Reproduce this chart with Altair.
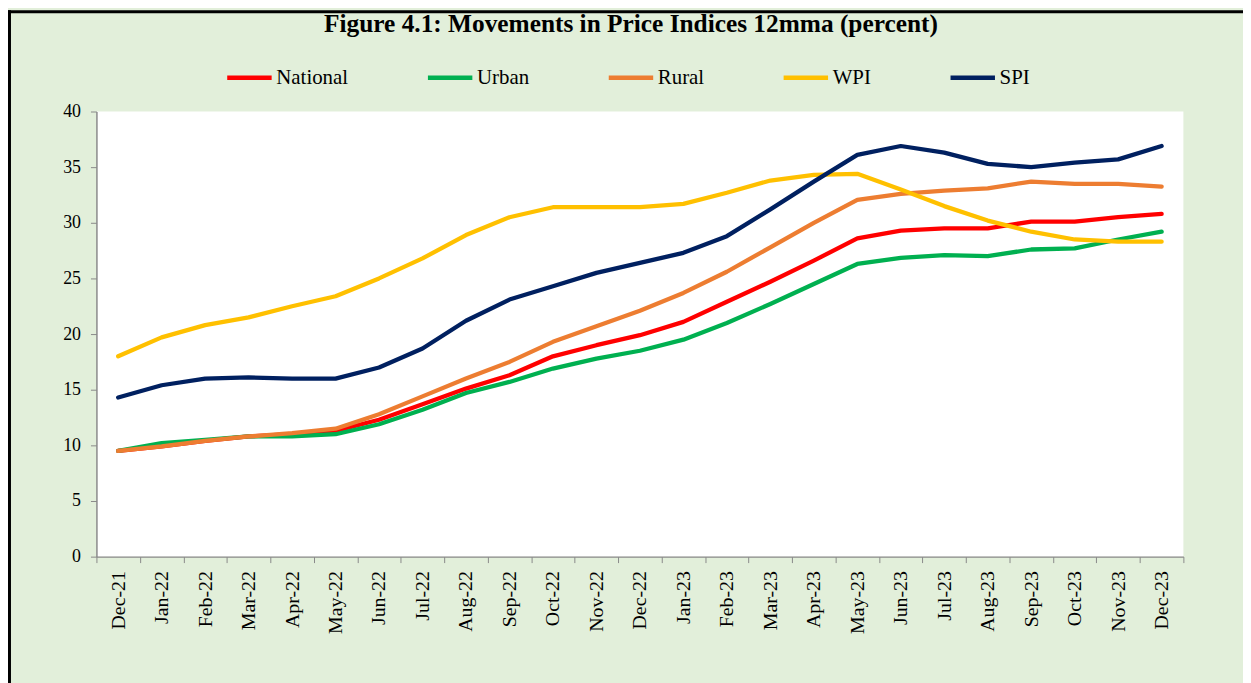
import altair as alt
import pandas as pd

months = ["Dec-21", "Jan-22", "Feb-22", "Mar-22", "Apr-22", "May-22", "Jun-22", "Jul-22",
          "Aug-22", "Sep-22", "Oct-22", "Nov-22", "Dec-22", "Jan-23", "Feb-23", "Mar-23",
          "Apr-23", "May-23", "Jun-23", "Jul-23", "Aug-23", "Sep-23", "Oct-23", "Nov-23", "Dec-23"]

national = [9.5, 9.9, 10.4, 10.8, 11.0, 11.3, 12.3, 13.7, 15.1, 16.3, 18.0, 19.0, 19.9,
            21.1, 22.9, 24.7, 26.6, 28.6, 29.3, 29.5, 29.5, 30.1, 30.1, 30.5, 30.8]
urban = [9.5, 10.2, 10.5, 10.8, 10.8, 11.0, 11.9, 13.2, 14.7, 15.7, 16.9, 17.8, 18.5,
         19.5, 21.0, 22.7, 24.5, 26.3, 26.85, 27.1, 27.0, 27.6, 27.7, 28.5, 29.2]
rural = [9.5, 9.9, 10.4, 10.8, 11.1, 11.5, 12.8, 14.4, 16.0, 17.5, 19.3, 20.7, 22.1,
         23.7, 25.6, 27.8, 30.0, 32.05, 32.6, 32.9, 33.1, 33.7, 33.5, 33.5, 33.25]
wpi = [18.0, 19.7, 20.8, 21.5, 22.5, 23.4, 25.0, 26.8, 28.9, 30.5, 31.4, 31.4, 31.4,
       31.7, 32.7, 33.8, 34.3, 34.4, 33.0, 31.5, 30.2, 29.2, 28.5, 28.3, 28.3]
spi = [14.3, 15.4, 16.0, 16.1, 16.0, 16.0, 17.0, 18.7, 21.2, 23.1, 24.3, 25.5, 26.4,
       27.3, 28.8, 31.2, 33.7, 36.1, 36.9, 36.3, 35.3, 35.0, 35.4, 35.7, 36.9]

series_names = ["National", "Urban", "Rural", "WPI", "SPI"]
series_colors = ["#FF0000", "#00B050", "#ED7D31", "#FFC000", "#002060"]
title_text = "Figure 4.1: Movements in Price Indices 12mma (percent)"

rows = []
for name, vals in zip(series_names, [national, urban, rural, wpi, spi]):
    for i, (m, v) in enumerate(zip(months, vals)):
        rows.append({"month": m, "series": name, "value": v, "order": i})
df = pd.DataFrame(rows)

SERIF = "Liberation Serif"
W, H = 1094, 448

lines = alt.Chart(df).mark_line(strokeWidth=4.3, strokeCap="round", strokeJoin="round").encode(
    x=alt.X("month:N", sort=months, title=None,
            scale=alt.Scale(type="band", paddingInner=0, paddingOuter=0),
            axis=alt.Axis(labelAngle=270, labelAlign="right", labelBaseline="middle",
                          labelFont=SERIF, labelFontSize=20, labelColor="#000000",
                          labelPadding=8, tickBand="extent", tickSize=6,
                          tickColor="#898989", domainColor="#898989", domainWidth=1.5,
                          labelOverlap=False, grid=False)),
    y=alt.Y("value:Q", title=None,
            scale=alt.Scale(domain=[0, 40], nice=False, zero=True),
            axis=alt.Axis(values=[0, 5, 10, 15, 20, 25, 30, 35, 40],
                          labelFont=SERIF, labelFontSize=18, labelColor="#000000",
                          labelPadding=10, tickSize=6, tickColor="#898989",
                          domainColor="#898989", domainWidth=1.5, grid=False)),
    color=alt.Color("series:N", sort=series_names,
                    scale=alt.Scale(domain=series_names, range=series_colors),
                    legend=alt.Legend(orient="none", legendX=129, legendY=-59,
                                      direction="horizontal", title=None,
                                      symbolType="stroke", symbolSize=2000,
                                      symbolStrokeWidth=4.5, labelFont=SERIF,
                                      labelFontSize=21, labelColor="#000000",
                                      labelOffset=2, columnPadding=70, padding=0)),
    order=alt.Order("order:Q"),
)

title_mark = alt.Chart(pd.DataFrame({"t": [title_text]})).mark_text(
    font=SERIF, fontSize=25.5, fontWeight="bold", color="#000000",
    align="center", baseline="alphabetic"
).encode(text="t:N", x=alt.value(538), y=alt.value(-80))

frame_df = pd.DataFrame({"k": [0]})
top_border = alt.Chart(frame_df).mark_rule(color="#000000", strokeWidth=3).encode(
    x=alt.value(-89), x2=alt.value(1160), y=alt.value(-100.5))
left_border = alt.Chart(frame_df).mark_rule(color="#000000", strokeWidth=3).encode(
    x=alt.value(-87.5), y=alt.value(-102), y2=alt.value(580))

chart = alt.layer(lines, title_mark, top_border, left_border).properties(
    width=W, height=H,
    autosize=alt.AutoSizeParams(type="none"),
    padding={"left": 89, "top": 102, "right": 60, "bottom": 125},
    background="#E2EFDA",
).configure_view(fill="#FFFFFF", stroke=None)

chart.save("out.html", embed_options={"renderer": "svg", "actions": False})
